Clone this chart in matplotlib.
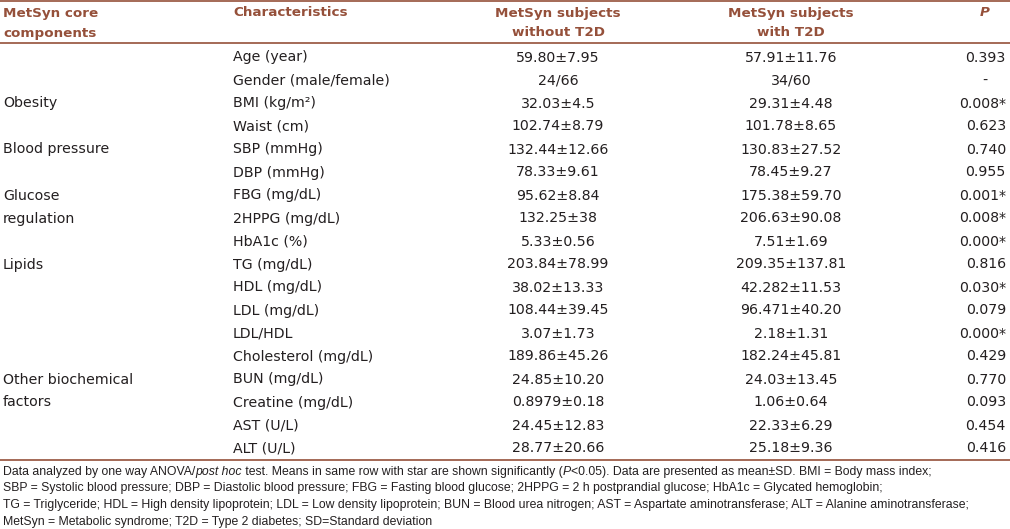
import matplotlib
matplotlib.use('Agg')
import matplotlib.pyplot as plt

# table content
components = ['', '', 'Obesity', '', 'Blood pressure', '', 'Glucose', 'regulation', '',
              'Lipids', '', '', '', '', 'Other biochemical', 'factors', '', '']
characteristics = ['Age (year)', 'Gender (male/female)', 'BMI (kg/m\u00b2)', 'Waist (cm)',
                   'SBP (mmHg)', 'DBP (mmHg)', 'FBG (mg/dL)', '2HPPG (mg/dL)', 'HbA1c (%)',
                   'TG (mg/dL)', 'HDL (mg/dL)', 'LDL (mg/dL)', 'LDL/HDL', 'Cholesterol (mg/dL)',
                   'BUN (mg/dL)', 'Creatine (mg/dL)', 'AST (U/L)', 'ALT (U/L)']
without_t2d = ['59.80\u00b17.95', '24/66', '32.03\u00b14.5', '102.74\u00b18.79', '132.44\u00b112.66',
               '78.33\u00b19.61', '95.62\u00b18.84', '132.25\u00b138', '5.33\u00b10.56',
               '203.84\u00b178.99', '38.02\u00b113.33', '108.44\u00b139.45', '3.07\u00b11.73',
               '189.86\u00b145.26', '24.85\u00b110.20', '0.8979\u00b10.18', '24.45\u00b112.83',
               '28.77\u00b120.66']
with_t2d = ['57.91\u00b111.76', '34/60', '29.31\u00b14.48', '101.78\u00b18.65', '130.83\u00b127.52',
            '78.45\u00b19.27', '175.38\u00b159.70', '206.63\u00b190.08', '7.51\u00b11.69',
            '209.35\u00b1137.81', '42.282\u00b111.53', '96.471\u00b140.20', '2.18\u00b11.31',
            '182.24\u00b145.81', '24.03\u00b113.45', '1.06\u00b10.64', '22.33\u00b16.29',
            '25.18\u00b19.36']
p_values = ['0.393', '-', '0.008*', '0.623', '0.740', '0.955', '0.001*', '0.008*', '0.000*',
            '0.816', '0.030*', '0.079', '0.000*', '0.429', '0.770', '0.093', '0.454', '0.416']

footnotes = [
    [('Data analyzed by one way ANOVA/', 'normal'), ('post hoc', 'italic'),
     (' test. Means in same row with star are shown significantly (', 'normal'), ('P', 'italic'),
     ('<0.05). Data are presented as mean\u00b1SD. BMI = Body mass index;', 'normal')],
    [('SBP = Systolic blood pressure; DBP = Diastolic blood pressure; FBG = Fasting blood glucose; '
      '2HPPG = 2 h postprandial glucose; HbA1c = Glycated hemoglobin;', 'normal')],
    [('TG = Triglyceride; HDL = High density lipoprotein; LDL = Low density lipoprotein; '
      'BUN = Blood urea nitrogen; AST = Aspartate aminotransferase; ALT = Alanine aminotransferase;', 'normal')],
    [('MetSyn = Metabolic syndrome; T2D = Type 2 diabetes; SD=Standard deviation', 'normal')],
]

brown = '#95503a'
ink = '#231f20'

fig = plt.figure(figsize=(10.10, 5.29), dpi=100)
ax = fig.add_axes([0, 0, 1, 1])
ax.set_xlim(0, 1010)
ax.set_ylim(529, 0)
ax.axis('off')

# rules
for y in (1, 43, 460):
    ax.axhline(y, color=brown, lw=1.2)

# header
hdr = dict(color=brown, fontsize=9.7, fontweight='bold', family='DejaVu Sans', va='center')
ax.text(3, 13, 'MetSyn core', **hdr)
ax.text(3, 33, 'components', **hdr)
ax.text(233, 13, 'Characteristics', **hdr)
ax.text(558, 13, 'MetSyn subjects', ha='center', **hdr)
ax.text(558, 33, 'without T2D', ha='center', **hdr)
ax.text(791, 13, 'MetSyn subjects', ha='center', **hdr)
ax.text(791, 33, 'with T2D', ha='center', **hdr)
ax.text(985, 13, 'P', ha='center', style='italic', **hdr)

# body rows
body = dict(color=ink, fontsize=10.2, family='DejaVu Sans', va='center')
y0, dy = 57.5, 23.0
for i in range(len(characteristics)):
    y = y0 + i * dy
    if components[i]:
        ax.text(3, y, components[i], **body)
    ax.text(233, y, characteristics[i], **body)
    ax.text(558, y, without_t2d[i], ha='center', **body)
    ax.text(791, y, with_t2d[i], ha='center', **body)
    if p_values[i] == '-':
        ax.text(985, y, p_values[i], ha='center', **body)
    else:
        ax.text(1006, y, p_values[i], ha='right', **body)

# footnotes, mixed italic pieces drawn one after another
fig.canvas.draw()
r = fig.canvas.get_renderer()
inv = ax.transData.inverted()
for j, line in enumerate(footnotes):
    x = 3
    y = 472 + j * 16.5
    for txt, st in line:
        t = ax.text(x, y, txt, color=ink, fontsize=8.85, family='Liberation Sans',
                    style=st, va='center')
        bb = t.get_window_extent(renderer=r)
        x = inv.transform((bb.x1, bb.y0))[0]

fig.savefig('out.png', dpi=100)
